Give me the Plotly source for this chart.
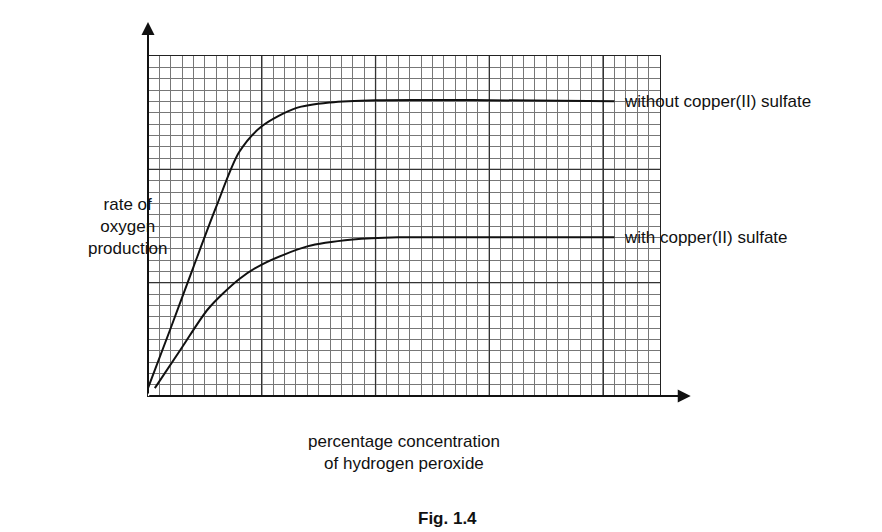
import plotly.graph_objects as go

x_without = [0, 2, 4, 6, 8, 10, 13, 16, 20, 30, 41]
y_without = [0.7, 6, 11.4, 16.7, 21.5, 23.8, 25.4, 25.9, 26.1, 26.1, 26.0]
x_with = [0.6, 3, 5.3, 8, 10, 14, 18, 22, 30, 41]
y_with = [0.7, 4.3, 7.7, 10.3, 11.6, 13.2, 13.8, 14.0, 14.0, 14.0]
labels = ["without copper(II) sulfate", "with copper(II) sulfate"]
major_x = [10, 20, 30, 40]
major_y = [10, 20]

F = "Liberation Sans, Arial, sans-serif"
fig = go.Figure()
for xs, ys in [(x_without, y_without), (x_with, y_with)]:
    fig.add_trace(go.Scatter(x=xs, y=ys, mode="lines", line=dict(color="#111", width=2, shape="spline", smoothing=0.8), showlegend=False))
for ys, t in [(y_without, labels[0]), (y_with, labels[1])]:
    fig.add_annotation(x=41, y=ys[-1], text=t, showarrow=False, xanchor="left", xshift=8, font=dict(family=F, size=17, color="#111"))

for v in major_x:
    fig.add_shape(type="line", x0=v, x1=v, y0=0, y1=30, line=dict(color="#222", width=1.3), layer="below")
for v in major_y:
    fig.add_shape(type="line", x0=0, x1=45, y0=v, y1=v, line=dict(color="#222", width=1.3), layer="below")

ax = dict(showgrid=True, gridcolor="#333", gridwidth=1.2, zeroline=False, showticklabels=False, ticks="",
          minor=dict(dtick=1, showgrid=True, gridcolor="#777", gridwidth=0.5), showline=True, linecolor="#222", mirror=True, linewidth=1.3)
fig.update_xaxes(range=[0, 45], dtick=10, **ax)
fig.update_yaxes(range=[0, 30], dtick=10, **ax)

fig.add_annotation(xref="paper", yref="paper", x=0, y=1.1, ax=0, ay=373, axref="pixel", ayref="pixel",
                   showarrow=True, arrowhead=2, arrowsize=1.3, arrowwidth=2, arrowcolor="#111", text="")
fig.add_annotation(xref="paper", yref="paper", x=1.06, y=0, ax=-543, ay=0,
                   showarrow=True, arrowhead=2, arrowsize=1.3, arrowwidth=2, arrowcolor="#111", text="")

fig.add_annotation(xref="paper", yref="paper", x=-0.122, y=0.5, text="rate of<br>oxygen<br>production", showarrow=False,
                   font=dict(family=F, size=17, color="#111"), align="center")
fig.add_annotation(xref="paper", yref="paper", x=0.5, y=-0.165, text="percentage concentration<br>of hydrogen peroxide", showarrow=False,
                   font=dict(family=F, size=17, color="#111"), align="center", yanchor="middle")
fig.add_annotation(xref="paper", yref="paper", x=0.585, y=-0.36, text="<b>Fig. 1.4</b>", showarrow=False,
                   font=dict(family=F, size=17, color="#111"), yanchor="middle")

fig.update_layout(width=882, height=532, margin=dict(l=140, r=230, t=48, b=144, autoexpand=False),
                  plot_bgcolor="white", paper_bgcolor="white")
fig.write_html("out.html")
